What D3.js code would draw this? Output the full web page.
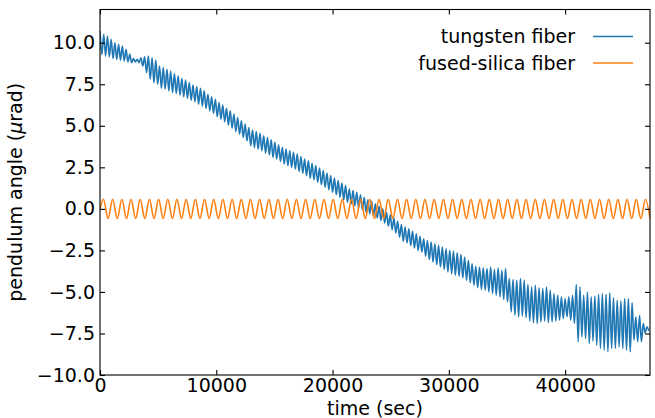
<!DOCTYPE html>
<html><head><meta charset="utf-8">
<script src="https://cdn.jsdelivr.net/npm/d3@7/dist/d3.min.js"></script>
<style>
body{margin:0;background:#fff}
svg{display:block}
text{font-family:"DejaVu Sans",sans-serif;fill:#000}
</style>
</head><body>
<svg id="chart" width="655" height="418"></svg>
<script>
// ---------- data ----------
const xTicks = [0, 10000, 20000, 30000, 40000];
const yTicks = [-10, -7.5, -5, -2.5, 0, 2.5, 5, 7.5, 10];
const xDomain = [0, 47300];
const yDomain = [-10, 12];
const seriesNames = ["tungsten fiber", "fused-silica fiber"];
const seriesColors = ["#1f77b4", "#ff7f0e"];
const xLabel = "time (sec)";

// tungsten fiber: one peak and one trough per oscillation (period ~320 s)
const tungstenPeriodSec = 320;
const tungstenPeaks = [
  10.7, 10.5, 10.4, 10.2, 10.0, 9.9, 9.8, 9.6,
  9.3, 9.05, 9.0, 9.1,
  9.15, 9.2, 9.1, 8.95,
  8.6, 8.5, 8.4, 8.3, 8.15, 8.0, 7.85, 7.75, 7.6, 7.45, 7.35,
  7.25, 7.1, 6.9, 6.75, 6.6, 6.4, 6.25, 6.05, 5.9, 5.7, 5.5, 5.3, 5.1, 4.9,
  4.75, 4.65, 4.55, 4.4, 4.3, 4.15, 4.0, 3.85, 3.7,
  3.6, 3.5, 3.4, 3.3, 3.15, 3.0, 2.9, 2.75, 2.6,
  2.45, 2.3, 2.15, 2.0, 1.85, 1.7, 1.55, 1.4, 1.2,
  1.1, 1.0, 0.85, 0.7, 0.55, 0.45, 0.3, 0.15, 0.0,
  -0.2, -0.35, -0.55, -0.75, -0.95,
  -1.1, -1.2, -1.35, -1.5, -1.65,
  -1.8, -1.9, -2.0, -2.1, -2.2,
  -2.3, -2.4, -2.5, -2.55, -2.65, -2.75,
  -2.9, -3.1, -3.3, -3.45, -3.5,
  -3.55, -3.6, -3.5, -3.65, -3.55, -3.7, -3.6,
  -4.2, -4.25, -4.3, -4.2, -4.3,
  -4.55, -4.7, -4.6, -4.75,
  -4.8, -4.7, -4.9, -5.1, -5.2,
  -5.3, -5.4, -5.3, -5.2,
  -4.55,
  -4.7, -5.2, -5.0, -5.3, -5.25, -5.15, -5.1, -5.15, -5.05, -5.35,
  -5.5, -5.55, -5.4, -5.4, -5.65, -6.5, -6.4, -6.9, -7.1
];
const tungstenTroughs = [
  9.3, 9.2, 9.15, 9.05, 9.0, 8.95, 8.9, 8.85,
  8.8, 8.85, 8.8, 8.6,
  8.2, 7.8, 7.6, 7.5,
  7.25, 7.2, 7.1, 7.0, 6.95, 6.85, 6.75, 6.65, 6.55, 6.45, 6.3,
  6.2, 6.05, 5.9, 5.75, 5.55, 5.4, 5.25, 5.05, 4.85, 4.65, 4.5, 4.3, 4.1, 3.8,
  3.7, 3.6, 3.5, 3.35, 3.25, 3.1, 3.0, 2.85, 2.7,
  2.6, 2.5, 2.4, 2.25, 2.15, 2.0, 1.85, 1.75, 1.6,
  1.45, 1.3, 1.15, 1.0, 0.85, 0.7, 0.55, 0.4, 0.3,
  0.2, 0.05, -0.05, -0.2, -0.3, -0.45, -0.55, -0.7, -0.85,
  -1.05, -1.25, -1.45, -1.7, -1.95,
  -2.05, -2.2, -2.35, -2.5, -2.6,
  -2.85, -3.05, -3.2, -3.35, -3.5,
  -3.65, -3.8, -3.9, -4.0, -4.05, -4.15,
  -4.3, -4.45, -4.6, -4.75, -4.85,
  -4.9, -5.0, -5.1, -5.2, -5.3, -5.45, -5.6,
  -6.2, -6.4, -6.5, -6.45, -6.55,
  -6.75, -6.85, -6.9, -6.8,
  -6.75, -6.85, -6.8, -6.75, -6.7,
  -6.6, -6.5, -6.7, -6.9,
  -8.0,
  -7.7, -7.8, -8.1, -7.95, -8.2, -8.4, -8.5, -8.6, -8.4, -8.4,
  -8.3, -8.4, -8.5, -8.6, -7.9, -8.0, -8.0, -7.45, -7.35
];

// fused-silica fiber: starting value, then alternating extrema (period ~790 s)
const silicaStartValue = 0;
const silicaFirstExtremumSec = 300;
const silicaHalfPeriodSec = 395;
const silicaExtrema = [
  0.58, -0.58, 0.58, -0.58, 0.58, -0.58, 0.58, -0.58, 0.58, -0.58,
  0.58, -0.58, 0.58, -0.58, 0.58, -0.58, 0.58, -0.58, 0.58, -0.58,
  0.58, -0.58, 0.58, -0.58, 0.58, -0.58, 0.58, -0.58, 0.58, -0.58,
  0.58, -0.58, 0.58, -0.58, 0.58, -0.58, 0.58, -0.58, 0.58, -0.58,
  0.58, -0.58, 0.58, -0.58, 0.58, -0.58, 0.58, -0.58, 0.58, -0.58,
  0.58, -0.58, 0.58, -0.58, 0.58, -0.58, 0.58, -0.58, 0.58, -0.58,
  0.58, -0.58, 0.58, -0.58, 0.58, -0.58, 0.58, -0.58, 0.58, -0.58,
  0.58, -0.58, 0.58, -0.58, 0.58, -0.58, 0.58, -0.58, 0.58, -0.58,
  0.58, -0.58, 0.58, -0.58, 0.58, -0.58, 0.58, -0.58, 0.58, -0.58,
  0.58, -0.58, 0.58, -0.58, 0.58, -0.58, 0.58, -0.58, 0.58, -0.58,
  0.58, -0.58, 0.58, -0.58, 0.58, -0.58, 0.58, -0.58, 0.58, -0.58,
  0.58, -0.58, 0.58, -0.58, 0.58, -0.58, 0.58, -0.58, 0.58, -0.58
];

// ---------- build point lists ----------
const tungsten = [];
tungstenPeaks.forEach((v, k) => {
  tungsten.push({t: k * tungstenPeriodSec, v: v});
  tungsten.push({t: k * tungstenPeriodSec + tungstenPeriodSec / 2, v: tungstenTroughs[k]});
});
const silica = [{t: 0, v: silicaStartValue}];
silicaExtrema.forEach((v, j) => silica.push({t: silicaFirstExtremumSec + j * silicaHalfPeriodSec, v: v}));

// ---------- layout ----------
const W = 655, H = 418;
const m = {left: 100, right: 5, top: 9.5, bottom: 43};
const iw = W - m.left - m.right, ih = H - m.top - m.bottom;
const svg = d3.select("#chart");
const x = d3.scaleLinear().domain(xDomain).range([0, iw]);
const y = d3.scaleLinear().domain(yDomain).range([ih, 0]);
const g = svg.append("g").attr("transform", `translate(${m.left},${m.top})`);

g.append("clipPath").attr("id", "clip").append("rect").attr("width", iw).attr("height", ih);

const line = d3.line().x(d => x(d.t)).y(d => y(d.v)).curve(d3.curveMonotoneX);
const plot = g.append("g").attr("clip-path", "url(#clip)");
[tungsten, silica].forEach((data, i) => {
  plot.append("path").datum(data).attr("d", line)
    .attr("fill", "none").attr("stroke", seriesColors[i])
    .attr("stroke-width", 1.6).attr("stroke-linejoin", "round");
});

const fs = 19;
const fmtY = d => d3.format(".1f")(d).replace("-", "\u2212");
// axes with inward ticks
const tickLen = 5;
const xAxisB = d3.axisBottom(x).tickValues(xTicks).tickSize(-tickLen).tickPadding(3).tickFormat(d3.format("d"));
const xAxisT = d3.axisTop(x).tickValues(xTicks).tickSize(-tickLen).tickFormat("");
const yAxisL = d3.axisLeft(y).tickValues(yTicks).tickSize(-tickLen).tickPadding(5).tickFormat(fmtY);
const yAxisR = d3.axisRight(y).tickValues(yTicks).tickSize(-tickLen).tickFormat("");

function style(sel) {
  sel.select(".domain").remove();
  sel.selectAll(".tick line").attr("stroke", "#000").attr("stroke-width", 1.1);
  sel.selectAll(".tick text").attr("font-size", fs).attr("font-family", "DejaVu Sans");
}
g.append("g").attr("transform", `translate(0,${ih})`).call(xAxisB).call(style);
g.append("g").call(xAxisT).call(style);
g.append("g").call(yAxisL).call(style);
g.append("g").attr("transform", `translate(${iw},0)`).call(yAxisR).call(style);

// frame
g.append("rect").attr("width", iw).attr("height", ih)
  .attr("fill", "none").attr("stroke", "#000").attr("stroke-width", 1.1);

// axis labels
g.append("text").attr("x", iw / 2).attr("y", ih + 40).attr("text-anchor", "middle")
  .attr("font-size", fs).text(xLabel);
const yl = g.append("text").attr("transform", `translate(${-78},${ih / 2}) rotate(-90)`)
  .attr("text-anchor", "middle").attr("font-size", fs);
yl.append("tspan").text("pendulum angle (");
yl.append("tspan").attr("font-style", "italic").text("\u03bc");
yl.append("tspan").text("rad)");

// legend
const leg = g.append("g");
seriesNames.forEach((name, i) => {
  const ly = 27 + i * 26.5;
  leg.append("text").attr("x", 475).attr("y", ly).attr("dy", "0.35em")
    .attr("text-anchor", "end").attr("font-size", fs).text(name);
  leg.append("line").attr("x1", 493).attr("x2", 533).attr("y1", ly).attr("y2", ly)
    .attr("stroke", seriesColors[i]).attr("stroke-width", 1.5);
});
</script>
</body></html>
